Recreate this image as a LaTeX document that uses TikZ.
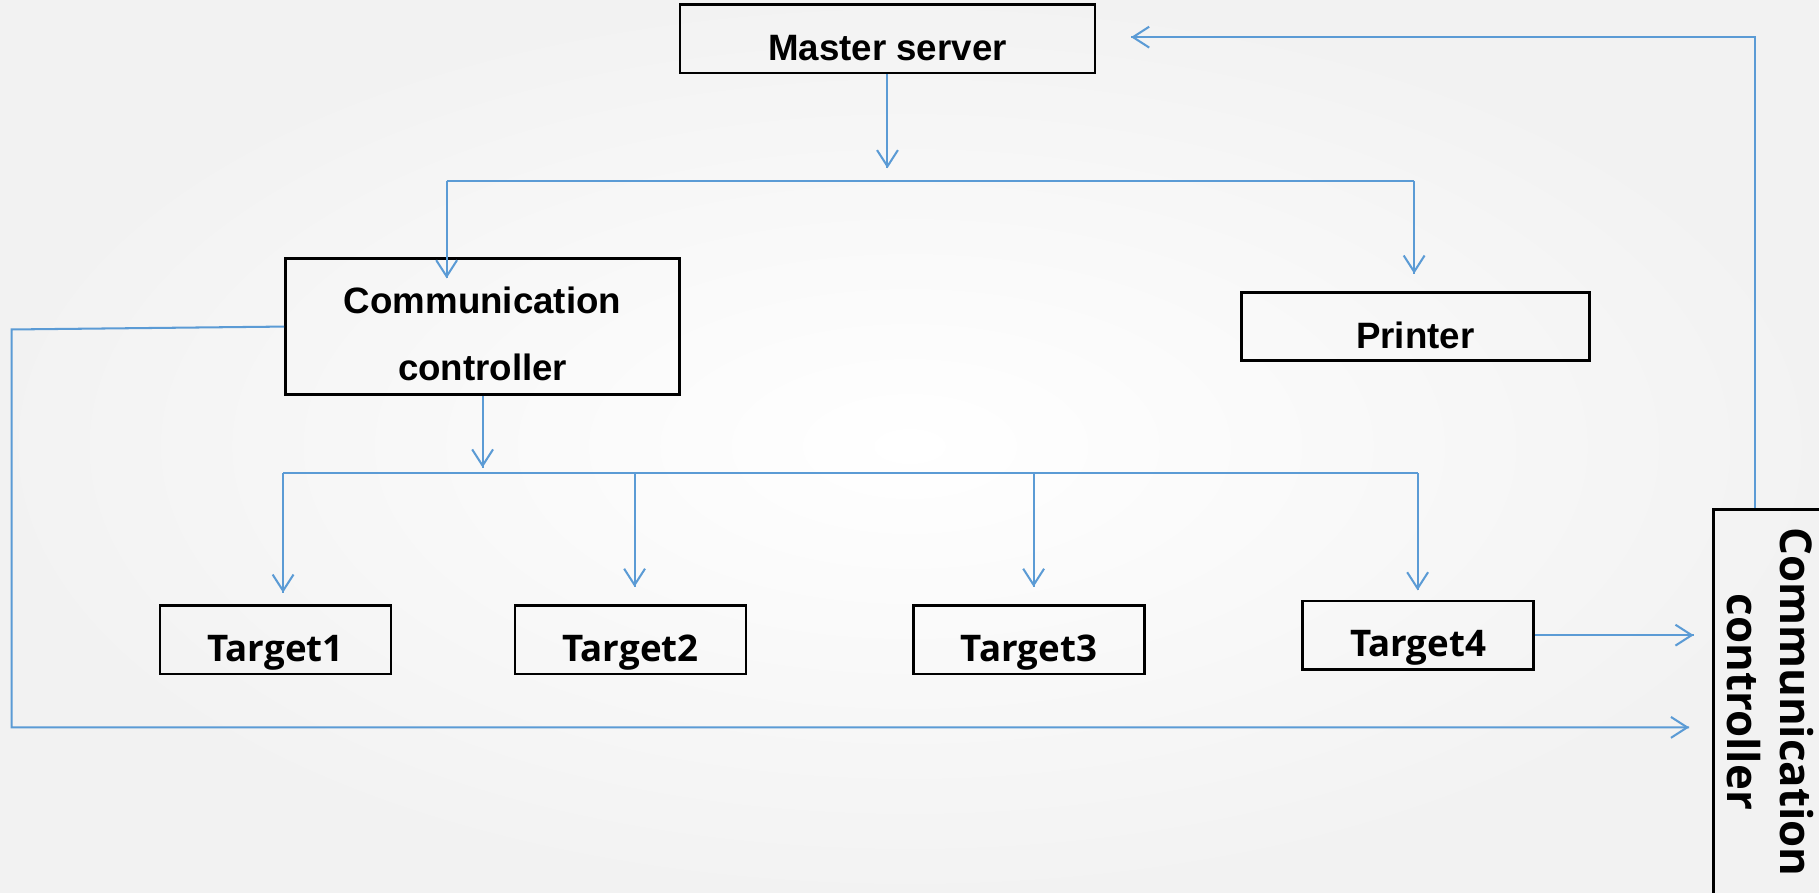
\documentclass[tikz,border=0pt]{standalone}
\usepackage{fontspec}
\setmainfont{Liberation Sans}
\newfontfamily\segfont{Open Sans}
\usetikzlibrary{decorations.markings,arrows.meta,calc}
\definecolor{linkblue}{HTML}{5B9BD5}

\begin{document}
\begin{tikzpicture}[x=0.02cm, y=-0.02cm, >={Straight Barb[length=2.8mm,width=3.6mm]},
  box/.style={draw, line width=1.3pt, inner sep=0pt, font=\bfseries\fontsize{18}{22}\selectfont},
  onebox/.style={box, text height=0.74cm, text depth=0pt},
  tbox/.style={onebox, minimum width=3.98cm, minimum height=1.18cm, font=\segfont\bfseries\fontsize{18}{22}\selectfont},
  wire/.style={draw=linkblue, line width=1pt},
  flow/.style={wire, decoration={markings,mark=at position 1 with {\arrow{>}}}, postaction={decorate}}]
\clip (0,0) rectangle (1568,769);
\shade[inner color=white, outer color=gray!10] (0,0) rectangle (1568,769);
% boxes
\node[onebox, minimum width=7.16cm, minimum height=1.18cm] (master) at (765,33.5) {Master server};
\node[box, align=center, minimum width=6.8cm, minimum height=2.34cm, font=\bfseries\fontsize{18}{32.4}\selectfont] (comm) at (416,281.5) {\rule{0pt}{0.71cm}Communication\\controller};
\node[onebox, minimum width=6cm, minimum height=1.18cm] (printer) at (1220,281.5) {Printer};
\node[tbox] (t1) at (237.5,551.5) {Target1};
\node[tbox] (t2) at (543.5,551.5) {Target2};
\node[tbox] (t3) at (887,551.5) {Target3};
\node[tbox] (t4) at (1222.5,547.5) {Target4};
\node[box, rotate=-90, align=center, minimum width=6.64cm, minimum height=1.96cm, font=\segfont\bfseries\fontsize{21.5}{26}\selectfont] (ctl2) at (1526,605) {Communication\\controller};
% bus points
\coordinate (mtip) at (765,145);
\coordinate (bus1w) at (385,156);
\coordinate (bus1e) at (1219,156);
\coordinate (bus2w) at (244,408);
\coordinate (bus2e) at (1222,408);
\coordinate (drop2) at (547,408);
\coordinate (drop3) at (891,408);
\coordinate (lcorner) at (10,284);
\coordinate (lowtip) at (1456,627);
\coordinate (rettip) at (975,32);
% connectors
\draw[flow] (master.south) -- (mtip);
\draw[wire] (bus1w) -- (bus1e);
\draw[flow] (bus1w) -- ($(bus1w |- comm.north)+(0,18)$);
\draw[flow] (bus1e) -- ($(bus1e |- printer.north)+(0,-15)$);
\draw[flow] (comm.south) -- ($(comm.south |- bus2w)+(0,-5)$);
\draw[wire] (bus2w) -- (bus2e);
\draw[flow] (bus2w) -- ($(bus2w |- t1.north)+(0,-10)$);
\foreach \d/\t in {drop2/t2, drop3/t3}
  \draw[flow] (\d) -- ($(\d |- \t.north)+(0,-15)$);
\draw[flow] (bus2e) -- ($(bus2e |- t4.north)+(0,-8)$);
\draw[flow] (t4.east) -- ($(t4.east -| ctl2.south)+(-16,0)$);
\draw[flow] (comm.west) -- (lcorner) |- (lowtip);
\draw[flow] ($(ctl2.west)+(-13,0)$) |- (rettip);
\end{tikzpicture}
\end{document}
